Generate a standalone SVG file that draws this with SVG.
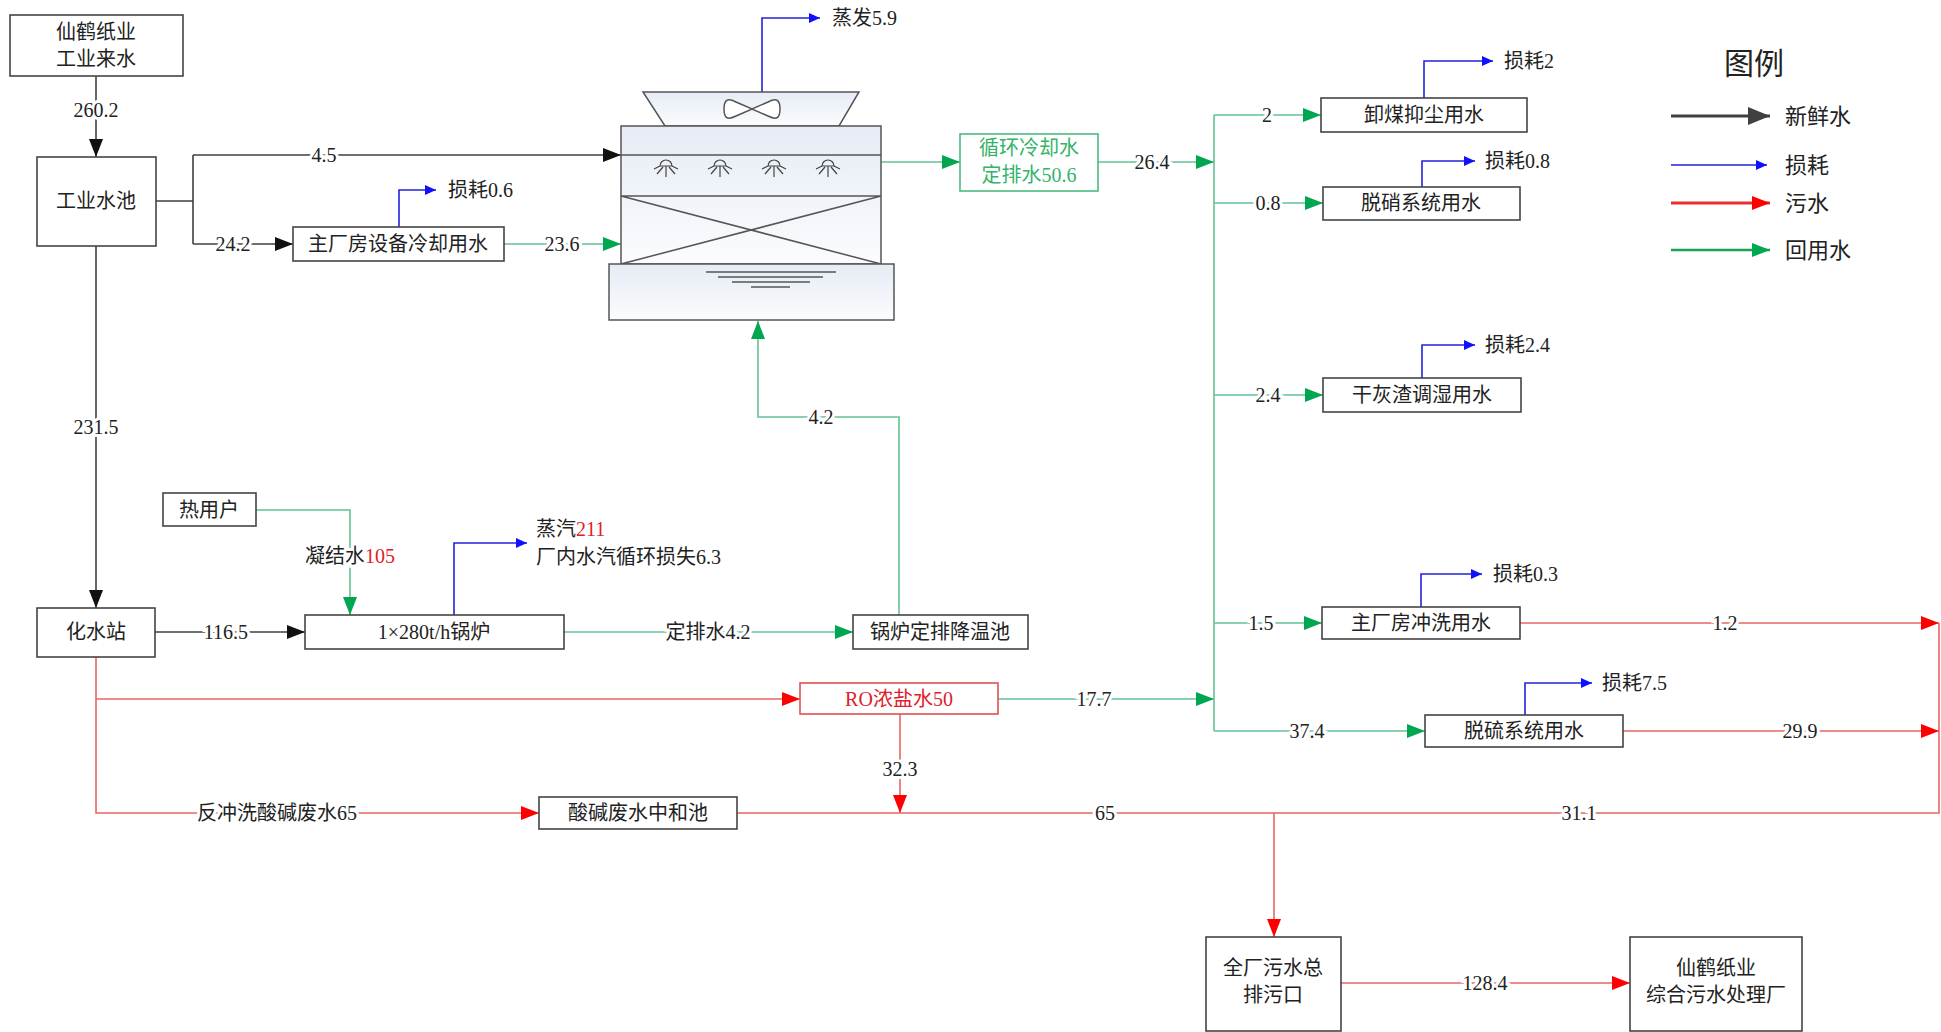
<svg xmlns="http://www.w3.org/2000/svg" width="1941" height="1032" viewBox="0 0 1941 1032">
<defs>
<linearGradient id="tg" x1="0" y1="0" x2="0" y2="1"><stop offset="0" stop-color="#e6ebf5"/><stop offset="1" stop-color="#fbfcfe"/></linearGradient>
<marker id="aK" markerUnits="userSpaceOnUse" markerWidth="18" markerHeight="14" refX="18" refY="7" orient="auto"><path d="M0,0 L18,7 L0,14 z" fill="#111"/></marker>
<marker id="aG" markerUnits="userSpaceOnUse" markerWidth="18" markerHeight="14" refX="18" refY="7" orient="auto"><path d="M0,0 L18,7 L0,14 z" fill="#00a650"/></marker>
<marker id="aR" markerUnits="userSpaceOnUse" markerWidth="18" markerHeight="14" refX="18" refY="7" orient="auto"><path d="M0,0 L18,7 L0,14 z" fill="#ff0000"/></marker>
<marker id="aB" markerUnits="userSpaceOnUse" markerWidth="11" markerHeight="10" refX="11" refY="5" orient="auto"><path d="M0,0 L11,5 L0,10 z" fill="#1010ff"/></marker>
<marker id="aKL" markerUnits="userSpaceOnUse" markerWidth="22" markerHeight="18" refX="22" refY="9" orient="auto"><path d="M0,0 L22,9 L0,18 z" fill="#404040"/></marker>
</defs>
<style>
text{font-family:"Liberation Serif","Noto Sans CJK SC",serif;font-size:20px;fill:#222;dominant-baseline:central}
.c{text-anchor:middle}
.lb{text-anchor:middle;paint-order:stroke;stroke:#fff;stroke-width:6px}
.box{fill:#fff;stroke:#444;stroke-width:1.6}
.k{fill:none;stroke:#404040;stroke-width:1.6}
.g{fill:none;stroke:#62c294;stroke-width:1.6}
.r{fill:none;stroke:#e86666;stroke-width:1.6}
.b{fill:none;stroke:#2222dd;stroke-width:1.6}
.red{fill:#e0202a}
.grn{fill:#35b36a}
.lg{font-size:22px}
</style>

<g id="connectors">
<path class="k" d="M96,76 V157" marker-end="url(#aK)"/>
<path class="k" d="M156,201 H193 M193,155 V244"/>
<path class="k" d="M193,155 H621" marker-end="url(#aK)"/>
<path class="k" d="M193,244 H293" marker-end="url(#aK)"/>
<path class="k" d="M96,246 V608" marker-end="url(#aK)"/>
<path class="k" d="M155,632 H305" marker-end="url(#aK)"/>
<path class="g" d="M504,244 H621" marker-end="url(#aG)"/>
<path class="g" d="M882,162 H960" marker-end="url(#aG)"/>
<path class="g" d="M1098,162 H1214" marker-end="url(#aG)"/>
<path class="g" d="M1214,115 V731"/>
<path class="g" d="M1214,115 H1321" marker-end="url(#aG)"/>
<path class="g" d="M1214,203 H1323" marker-end="url(#aG)"/>
<path class="g" d="M1214,395 H1323" marker-end="url(#aG)"/>
<path class="g" d="M1214,623 H1322" marker-end="url(#aG)"/>
<path class="g" d="M1214,731 H1425" marker-end="url(#aG)"/>
<path class="g" d="M998,699 H1214" marker-end="url(#aG)"/>
<path class="g" d="M256,510 H350 V615" marker-end="url(#aG)"/>
<path class="g" d="M564,632 H853" marker-end="url(#aG)"/>
<path class="g" d="M899,615 V417 H758 V321" marker-end="url(#aG)"/>
<path class="b" d="M762,92 V18 H820" marker-end="url(#aB)"/>
<path class="b" d="M399,227 V190 H436" marker-end="url(#aB)"/>
<path class="b" d="M454,615 V543 H527" marker-end="url(#aB)"/>
<path class="b" d="M1424,98 V61 H1493" marker-end="url(#aB)"/>
<path class="b" d="M1422,187 V161 H1475" marker-end="url(#aB)"/>
<path class="b" d="M1422,378 V345 H1475" marker-end="url(#aB)"/>
<path class="b" d="M1421,607 V574 H1482" marker-end="url(#aB)"/>
<path class="b" d="M1525,715 V683 H1592" marker-end="url(#aB)"/>
<path class="r" d="M96,657 V813 H539" marker-end="url(#aR)"/>
<path class="r" d="M96,699 H800" marker-end="url(#aR)"/>
<path class="r" d="M900,714 V813" marker-end="url(#aR)"/>
<path class="r" d="M737,813 H1939 V623"/>
<path class="r" d="M1520,623 H1939" marker-end="url(#aR)"/>
<path class="r" d="M1623,731 H1939" marker-end="url(#aR)"/>
<path class="r" d="M1274,813 V937" marker-end="url(#aR)"/>
<path class="r" d="M1341,983 H1630" marker-end="url(#aR)"/>
<text class="lb" x="96" y="110">260.2</text>
<text class="lb" x="324" y="155">4.5</text>
<text class="lb" x="233" y="244">24.2</text>
<text class="lb" x="562" y="244">23.6</text>
<text class="lb" x="96" y="427">231.5</text>
<text class="lb" x="226" y="632">116.5</text>
<text class="lb" x="350" y="556">凝结水<tspan style="fill:#e0202a">105</tspan></text>
<text class="lb" x="708" y="632">定排水4.2</text>
<text class="lb" x="821" y="417">4.2</text>
<text class="lb" x="1152" y="162">26.4</text>
<text class="lb" x="1267" y="115">2</text>
<text class="lb" x="1268" y="203">0.8</text>
<text class="lb" x="1268" y="395">2.4</text>
<text class="lb" x="1261" y="623">1.5</text>
<text class="lb" x="1307" y="731">37.4</text>
<text class="lb" x="1094" y="699">17.7</text>
<text class="lb" x="900" y="769">32.3</text>
<text class="lb" x="277" y="813">反冲洗酸碱废水65</text>
<text class="lb" x="1105" y="813">65</text>
<text class="lb" x="1579" y="813">31.1</text>
<text class="lb" x="1725" y="623">1.2</text>
<text class="lb" x="1800" y="731">29.9</text>
<text class="lb" x="1485" y="983">128.4</text>
<text x="832" y="18">蒸发5.9</text>
<text x="448" y="190">损耗0.6</text>
<text x="536" y="529">蒸汽<tspan style="fill:#e0202a">211</tspan></text>
<text x="536" y="557">厂内水汽循环损失6.3</text>
<text x="1504" y="61">损耗2</text>
<text x="1485" y="161">损耗0.8</text>
<text x="1485" y="345">损耗2.4</text>
<text x="1493" y="574">损耗0.3</text>
<text x="1602" y="683">损耗7.5</text>
</g>

<g id="tower">
<path d="M643,92 H859 L839,126 H665 Z" fill="url(#tg)" stroke="#555" stroke-width="1.5"/>
<path d="M724,109 C724,99 728,98 736,102 L752,109 L768,102 C776,98 780,99 780,109 C780,119 776,120 768,116 L752,109 L736,116 C728,120 724,119 724,109 Z" fill="#fff" stroke="#555" stroke-width="1.5"/>
<rect x="621" y="126" width="260" height="138" fill="url(#tg)" stroke="#555" stroke-width="1.5"/>
<path d="M621,155 H881 M621,196 H881 M621,196 L881,264 M881,196 L621,264" fill="none" stroke="#555" stroke-width="1.5"/>
<g fill="none" stroke="#444" stroke-width="1.2">
<path d="M660,166 A6,6 0 0,1 672,166 Z M666,166 V177 M663,167 L657,174 M669,167 L675,174 M660,166 L654,169 M672,166 L678,169"/>
<path d="M714,166 A6,6 0 0,1 726,166 Z M720,166 V177 M717,167 L711,174 M723,167 L729,174 M714,166 L708,169 M726,166 L732,169"/>
<path d="M768,166 A6,6 0 0,1 780,166 Z M774,166 V177 M771,167 L765,174 M777,167 L783,174 M768,166 L762,169 M780,166 L786,169"/>
<path d="M822,166 A6,6 0 0,1 834,166 Z M828,166 V177 M825,167 L819,174 M831,167 L837,174 M822,166 L816,169 M834,166 L840,169"/>
</g>
<rect x="609" y="264" width="285" height="56" fill="url(#tg)" stroke="#555" stroke-width="1.5"/>
<path d="M706,272 H836 M718,277 H823 M732,282 H810 M751,287 H790" fill="none" stroke="#555" stroke-width="1.5"/>
</g>

<g id="n1"><rect class="box" x="10" y="15" width="173" height="61"/><text class="c" x="96" y="32">仙鹤纸业</text><text class="c" x="96" y="59">工业来水</text></g>
<g id="n2"><rect class="box" x="37" y="157" width="119" height="89"/><text class="c" x="96" y="201">工业水池</text></g>
<g id="n3"><rect class="box" x="293" y="227" width="211" height="34"/><text class="c" x="398" y="244">主厂房设备冷却用水</text></g>
<g id="n4"><rect x="960" y="134" width="138" height="57" fill="#fff" stroke="#4dbb7d" stroke-width="1.6"/><text class="c grn" x="1029" y="148">循环冷却水</text><text class="c grn" x="1029" y="175">定排水50.6</text></g>
<g id="n5"><rect class="box" x="1321" y="98" width="206" height="34"/><text class="c" x="1424" y="115">卸煤抑尘用水</text></g>
<g id="n6"><rect class="box" x="1323" y="187" width="197" height="33"/><text class="c" x="1421" y="203">脱硝系统用水</text></g>
<g id="n7"><rect class="box" x="1323" y="378" width="198" height="34"/><text class="c" x="1422" y="395">干灰渣调湿用水</text></g>
<g id="n8"><rect class="box" x="1322" y="607" width="198" height="32"/><text class="c" x="1421" y="623">主厂房冲洗用水</text></g>
<g id="n9"><rect class="box" x="1425" y="715" width="198" height="32"/><text class="c" x="1524" y="731">脱硫系统用水</text></g>
<g id="n10"><rect class="box" x="163" y="493" width="93" height="33"/><text class="c" x="209" y="510">热用户</text></g>
<g id="n11"><rect class="box" x="37" y="608" width="118" height="49"/><text class="c" x="96" y="632">化水站</text></g>
<g id="n12"><rect class="box" x="305" y="615" width="259" height="34"/><text class="c" x="434" y="632">1×280t/h锅炉</text></g>
<g id="n13"><rect class="box" x="853" y="615" width="175" height="34"/><text class="c" x="940" y="632">锅炉定排降温池</text></g>
<g id="n14"><rect x="800" y="683" width="198" height="31" fill="#fff" stroke="#e05050" stroke-width="1.6"/><text class="c red" x="899" y="699">RO浓盐水50</text></g>
<g id="n15"><rect class="box" x="539" y="797" width="198" height="32"/><text class="c" x="638" y="813">酸碱废水中和池</text></g>
<g id="n16"><rect class="box" x="1206" y="937" width="135" height="94"/><text class="c" x="1273" y="968">全厂污水总</text><text class="c" x="1273" y="995">排污口</text></g>
<g id="n17"><rect class="box" x="1630" y="937" width="172" height="94"/><text class="c" x="1716" y="968">仙鹤纸业</text><text class="c" x="1716" y="995">综合污水处理厂</text></g>

<g id="legend">
<text class="c" x="1754" y="63" style="font-size:30px">图例</text>
<path d="M1671,116 H1770" stroke="#404040" stroke-width="3" marker-end="url(#aKL)"/>
<text class="lg" x="1785" y="116">新鲜水</text>
<path d="M1671,165 H1767" stroke="#2222dd" stroke-width="1.6" marker-end="url(#aB)"/>
<text class="lg" x="1785" y="165">损耗</text>
<path d="M1671,203 H1770" stroke="#e83030" stroke-width="3" marker-end="url(#aR)"/>
<text class="lg" x="1785" y="203">污水</text>
<path d="M1671,250 H1770" stroke="#1f9e55" stroke-width="2.5" marker-end="url(#aG)"/>
<text class="lg" x="1785" y="250">回用水</text>
</g>
</svg>
